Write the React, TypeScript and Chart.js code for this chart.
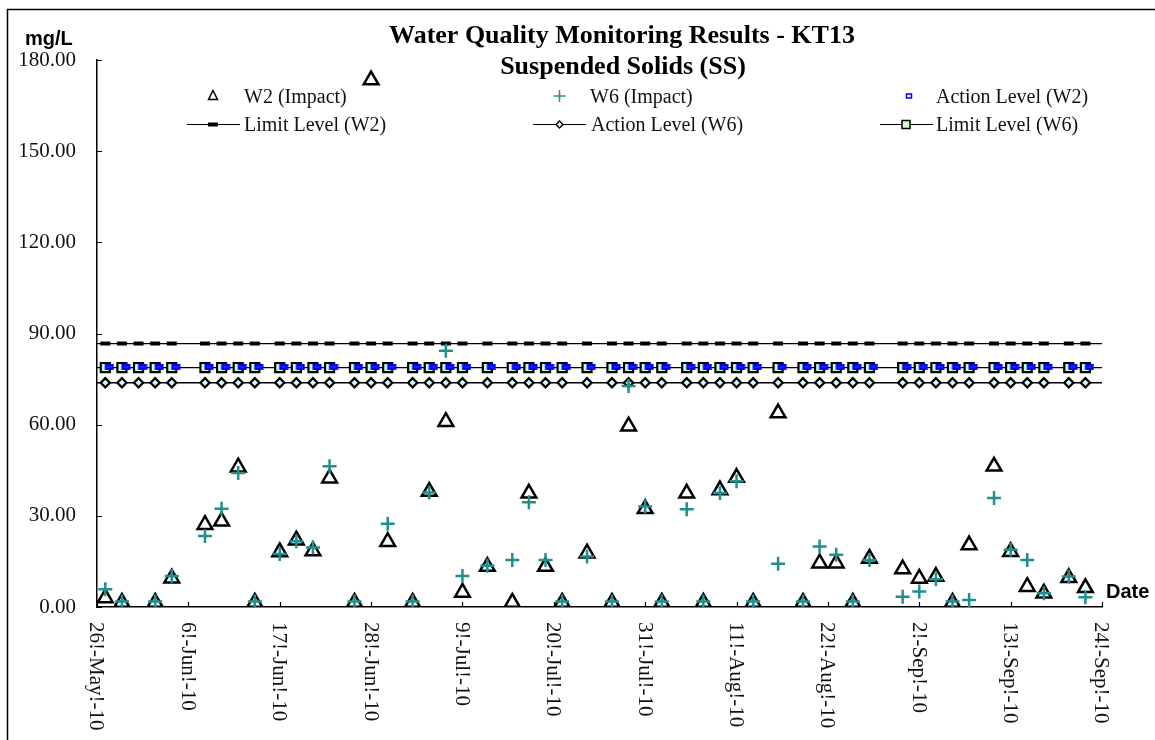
import React, { useEffect, useRef } from "react";
import { Chart, registerables } from "chart.js";

Chart.register(...registerables);

// ---- axis definition ----
const AXIS_START = "2010-05-26";
const AXIS_DAYS = 121;
const TICK_STEP_DAYS = 11;
const X_TICK_LABELS = [
  "26!-May!-10", "6!-Jun!-10", "17!-Jun!-10", "28!-Jun!-10", "9!-Jul!-10", "20!-Jul!-10",
  "31!-Jul!-10", "11!-Aug!-10", "22!-Aug!-10", "2!-Sep!-10", "13!-Sep!-10", "24!-Sep!-10",
];
const Y_MIN = 0;
const Y_MAX = 180;
const Y_STEP = 30;

// ---- sampling dates ----
const SAMPLE_DATES = [
  "2010-05-27", "2010-05-29", "2010-05-31", "2010-06-02", "2010-06-04", "2010-06-08",
  "2010-06-10", "2010-06-12", "2010-06-14", "2010-06-17", "2010-06-19", "2010-06-21",
  "2010-06-23", "2010-06-26", "2010-06-28", "2010-06-30", "2010-07-03", "2010-07-05",
  "2010-07-07", "2010-07-09", "2010-07-12", "2010-07-15", "2010-07-17", "2010-07-19",
  "2010-07-21", "2010-07-24", "2010-07-27", "2010-07-29", "2010-07-31", "2010-08-02",
  "2010-08-05", "2010-08-07", "2010-08-09", "2010-08-11", "2010-08-13", "2010-08-16",
  "2010-08-19", "2010-08-21", "2010-08-23", "2010-08-25", "2010-08-27", "2010-08-31",
  "2010-09-02", "2010-09-04", "2010-09-06", "2010-09-08", "2010-09-11", "2010-09-13",
  "2010-09-15", "2010-09-17", "2010-09-20", "2010-09-22",
];

// ---- measured series (mg/L) ----
const W2_IMPACT: (number | null)[] = [
  3.0, 1.5, null, 1.5, 9.5, 27.1,
  28.2, 46.0, 1.5, 18.1, 22.0, 18.4,
  42.4, 1.5, 173.4, 21.5, 1.5, 38.0,
  61.0, 4.8, 13.3, 1.5, 37.4, 13.3,
  1.5, 17.7, 1.5, 59.5, 32.3, 1.5,
  37.4, 1.5, 38.5, 42.6, 1.5, 63.8,
  1.5, 14.4, 14.4, 1.5, 16.0, 12.5,
  9.4, 10.0, 1.5, 20.4, 46.3, 18.2,
  6.7, 4.5, 9.6, 6.3,
];
const W6_IMPACT: (number | null)[] = [
  5.8, 1.8, null, 1.8, 10.2, 23.4,
  32.3, 44.1, 1.8, 17.4, 21.6, 19.6,
  46.3, 1.8, null, 27.4, 1.8, 37.7,
  84.3, 10.2, 13.6, 15.5, 34.5, 15.5,
  1.8, 16.6, 1.8, 72.7, 33.1, 1.8,
  32.2, 1.8, 37.5, 41.4, 1.8, 14.2,
  1.8, 19.9, 17.2, 1.8, 15.5, 3.4,
  5.1, 9.1, 1.8, 2.3, 35.9, 18.8,
  15.5, 4.5, 10.0, 3.2,
];

// ---- compliance levels (mg/L) ----
const ACTION_W2 = 79.0;
const LIMIT_W2 = 86.7;
const ACTION_W6 = 73.8;
const LIMIT_W6 = 78.8;

const SERIF = "'Times New Roman', 'Liberation Serif', serif";
const SANS = "Arial, 'Liberation Sans', sans-serif";
const TEAL = "#1f8f8f";

export default function App() {
  const ref = useRef<HTMLCanvasElement>(null);

  useEffect(() => {
    document.body.style.margin = "0";
    document.body.style.overflow = "hidden";
    const canvas = ref.current!;

    const base = Date.parse(AXIS_START + "T00:00:00Z");
    const toDay = (s: string) => Math.round((Date.parse(s + "T00:00:00Z") - base) / 86400000);
    const xs = SAMPLE_DATES.map(toDay);
    const pts = (vals: (number | null)[]) => xs.map((x, i) => ({ x, y: vals[i] }));
    const flat = (v: number) => xs.map((x) => ({ x, y: v }));
    const level = (v: number) => [{ x: 0, y: v }, ...flat(v), { x: AXIS_DAYS, y: v }];
    const edgeR = (r: number) => (c: any) =>
      c.dataIndex === 0 || c.dataIndex === xs.length + 1 ? 0 : r;

    // blue action-level marker, drawn slightly to the right of its point
    const blue = document.createElement("canvas");
    blue.width = 18;
    blue.height = 8;
    const bc = blue.getContext("2d")!;
    bc.fillStyle = "#2020ff";
    bc.strokeStyle = "#0000ff";
    bc.lineWidth = 2;
    bc.fillRect(9.5, 2, 7, 4);
    bc.strokeRect(9.5, 2, 7, 4);

    const decor = {
      id: "decor",
      afterDraw(chart: any) {
        const ctx = chart.ctx as CanvasRenderingContext2D;
        const xS = chart.scales.x;
        const yS = chart.scales.y;
        const area = chart.chartArea;
        ctx.save();

        // outer frame (top + left)
        ctx.strokeStyle = "#000";
        ctx.lineWidth = 1.5;
        ctx.beginPath();
        ctx.moveTo(7.5, 740);
        ctx.lineTo(7.5, 9.5);
        ctx.lineTo(1155, 9.5);
        ctx.stroke();

        // inward tick marks
        ctx.lineWidth = 1.2;
        ctx.beginPath();
        for (let v = Y_MIN; v <= Y_MAX; v += Y_STEP) {
          const py = Math.round(yS.getPixelForValue(v)) + 0.5;
          ctx.moveTo(area.left, py);
          ctx.lineTo(area.left + 5, py);
        }
        X_TICK_LABELS.forEach((_, i) => {
          const px = Math.round(xS.getPixelForValue(i * TICK_STEP_DAYS)) + 0.5;
          ctx.moveTo(px, area.bottom);
          ctx.lineTo(px, area.bottom - 5);
        });
        ctx.stroke();

        // rotated date labels
        ctx.fillStyle = "#111";
        ctx.font = `21px ${SERIF}`;
        X_TICK_LABELS.forEach((lab, i) => {
          const px = xS.getPixelForValue(i * TICK_STEP_DAYS);
          ctx.save();
          ctx.translate(px - 1, 622);
          ctx.rotate(Math.PI / 2);
          ctx.textAlign = "left";
          ctx.textBaseline = "middle";
          ctx.fillText(lab, 0, 0);
          ctx.restore();
        });

        // titles
        ctx.fillStyle = "#000";
        ctx.textAlign = "center";
        ctx.textBaseline = "alphabetic";
        ctx.font = `bold 26px ${SERIF}`;
        ctx.fillText("Water Quality Monitoring Results - KT13", 622, 43);
        ctx.fillText("Suspended Solids (SS)", 623, 74);

        // axis titles
        ctx.textAlign = "left";
        ctx.font = `bold 20px ${SANS}`;
        ctx.fillText("mg/L", 25, 45);
        ctx.fillText("Date", 1106, 598);

        // legend
        ctx.font = `20px ${SERIF}`;
        ctx.fillStyle = "#111";
        const r1 = 96;
        const r2 = 124.5;
        const tb1 = 103;
        const tb2 = 131;
        ctx.fillText("W2 (Impact)", 244, tb1);
        ctx.fillText("W6 (Impact)", 590, tb1);
        ctx.fillText("Action Level (W2)", 936, tb1);
        ctx.fillText("Limit Level (W2)", 244, tb2);
        ctx.fillText("Action Level (W6)", 591, tb2);
        ctx.fillText("Limit Level (W6)", 936, tb2);

        // legend: triangle
        ctx.strokeStyle = "#000";
        ctx.lineWidth = 1.5;
        ctx.beginPath();
        ctx.moveTo(213, r1 - 5.5);
        ctx.lineTo(217.5, r1 + 3.5);
        ctx.lineTo(208.5, r1 + 3.5);
        ctx.closePath();
        ctx.stroke();
        // legend: plus
        ctx.strokeStyle = TEAL;
        ctx.lineWidth = 1.5;
        ctx.beginPath();
        ctx.moveTo(553.5, r1);
        ctx.lineTo(565.5, r1);
        ctx.moveTo(559.5, r1 - 6);
        ctx.lineTo(559.5, r1 + 6);
        ctx.stroke();
        // legend: blue rect
        ctx.strokeStyle = "#0000ff";
        ctx.lineWidth = 1.5;
        ctx.fillStyle = "#fff";
        ctx.fillRect(906.5, r1 - 2, 5, 4);
        ctx.strokeRect(906.5, r1 - 2, 5, 4);

        // legend lines
        ctx.strokeStyle = "#000";
        ctx.lineWidth = 1.2;
        ctx.beginPath();
        ctx.moveTo(187, r2);
        ctx.lineTo(240, r2);
        ctx.moveTo(533, r2);
        ctx.lineTo(586, r2);
        ctx.moveTo(880, r2);
        ctx.lineTo(933, r2);
        ctx.stroke();
        // dash marker
        ctx.fillStyle = "#000";
        ctx.fillRect(208, r2 - 2, 10, 4);
        // diamond
        ctx.fillStyle = "#ccffff";
        ctx.lineWidth = 1.4;
        ctx.beginPath();
        ctx.moveTo(559.5, r2 - 3.5);
        ctx.lineTo(563, r2);
        ctx.lineTo(559.5, r2 + 3.5);
        ctx.lineTo(556, r2);
        ctx.closePath();
        ctx.fill();
        ctx.stroke();
        // square
        ctx.fillStyle = "#ccffcc";
        ctx.lineWidth = 1.5;
        ctx.fillRect(902, r2 - 4, 8, 8);
        ctx.strokeRect(902, r2 - 4, 8, 8);

        ctx.restore();
      },
    };

    const lineCommon = {
      showLine: true,
      borderColor: "#000",
      borderWidth: 1.3,
      pointBorderColor: "#000",
      tension: 0,
    };

    const chart = new Chart(canvas, {
      type: "scatter",
      data: {
        datasets: [
          {
            label: "W6 (Impact)",
            data: pts(W6_IMPACT),
            pointStyle: "cross",
            pointRadius: 7,
            pointBorderWidth: 2.5,
            borderColor: TEAL,
            backgroundColor: TEAL,
            showLine: false,
            order: 0,
          },
          {
            label: "W2 (Impact)",
            data: pts(W2_IMPACT),
            pointStyle: "triangle",
            pointRadius: 8.5,
            pointBorderWidth: 2.5,
            borderColor: "#000",
            backgroundColor: "rgba(0,0,0,0)",
            showLine: false,
            order: 1,
          },
          {
            label: "Action Level (W2)",
            data: flat(ACTION_W2),
            pointStyle: blue as any,
            pointRadius: 4,
            showLine: false,
            order: 2,
          },
          {
            ...lineCommon,
            label: "Limit Level (W6)",
            data: level(LIMIT_W6),
            pointStyle: "rect",
            pointRadius: edgeR(6.4),
            pointBorderWidth: 2.2,
            pointBackgroundColor: "#ccffcc",
            order: 3,
          },
          {
            ...lineCommon,
            label: "Limit Level (W2)",
            data: level(LIMIT_W2),
            pointStyle: "line",
            pointRadius: edgeR(5),
            pointBorderWidth: 4,
            order: 4,
          },
          {
            ...lineCommon,
            label: "Action Level (W6)",
            data: level(ACTION_W6),
            pointStyle: "rectRot",
            pointRadius: edgeR(4.6),
            pointBorderWidth: 2.2,
            pointBackgroundColor: "#ccffff",
            order: 5,
          },
        ] as any,
      },
      options: {
        responsive: false,
        animation: false,
        events: [],
        layout: { padding: { left: 0, right: 53, top: 60, bottom: 0 } },
        plugins: {
          legend: { display: false },
          title: { display: false },
          tooltip: { enabled: false },
        },
        scales: {
          x: {
            type: "linear",
            min: 0,
            max: AXIS_DAYS,
            ticks: { display: false, stepSize: TICK_STEP_DAYS },
            grid: { display: false, drawTicks: false },
            border: { display: true, color: "#000", width: 1.5 },
            afterFit: (s: any) => {
              s.height = 133;
            },
          },
          y: {
            min: Y_MIN,
            max: Y_MAX,
            ticks: {
              stepSize: Y_STEP,
              callback: (v: any) => Number(v).toFixed(2),
              font: { family: SERIF, size: 21 },
              color: "#111",
              padding: 21,
            },
            grid: { display: false, drawTicks: false },
            border: { display: true, color: "#000", width: 1.5 },
            afterFit: (s: any) => {
              s.width = 97;
            },
          },
        },
      } as any,
      plugins: [decor],
    });

    return () => chart.destroy();
  }, []);

  return <canvas ref={ref} width={1155} height={740} style={{ display: "block" }} />;
}
